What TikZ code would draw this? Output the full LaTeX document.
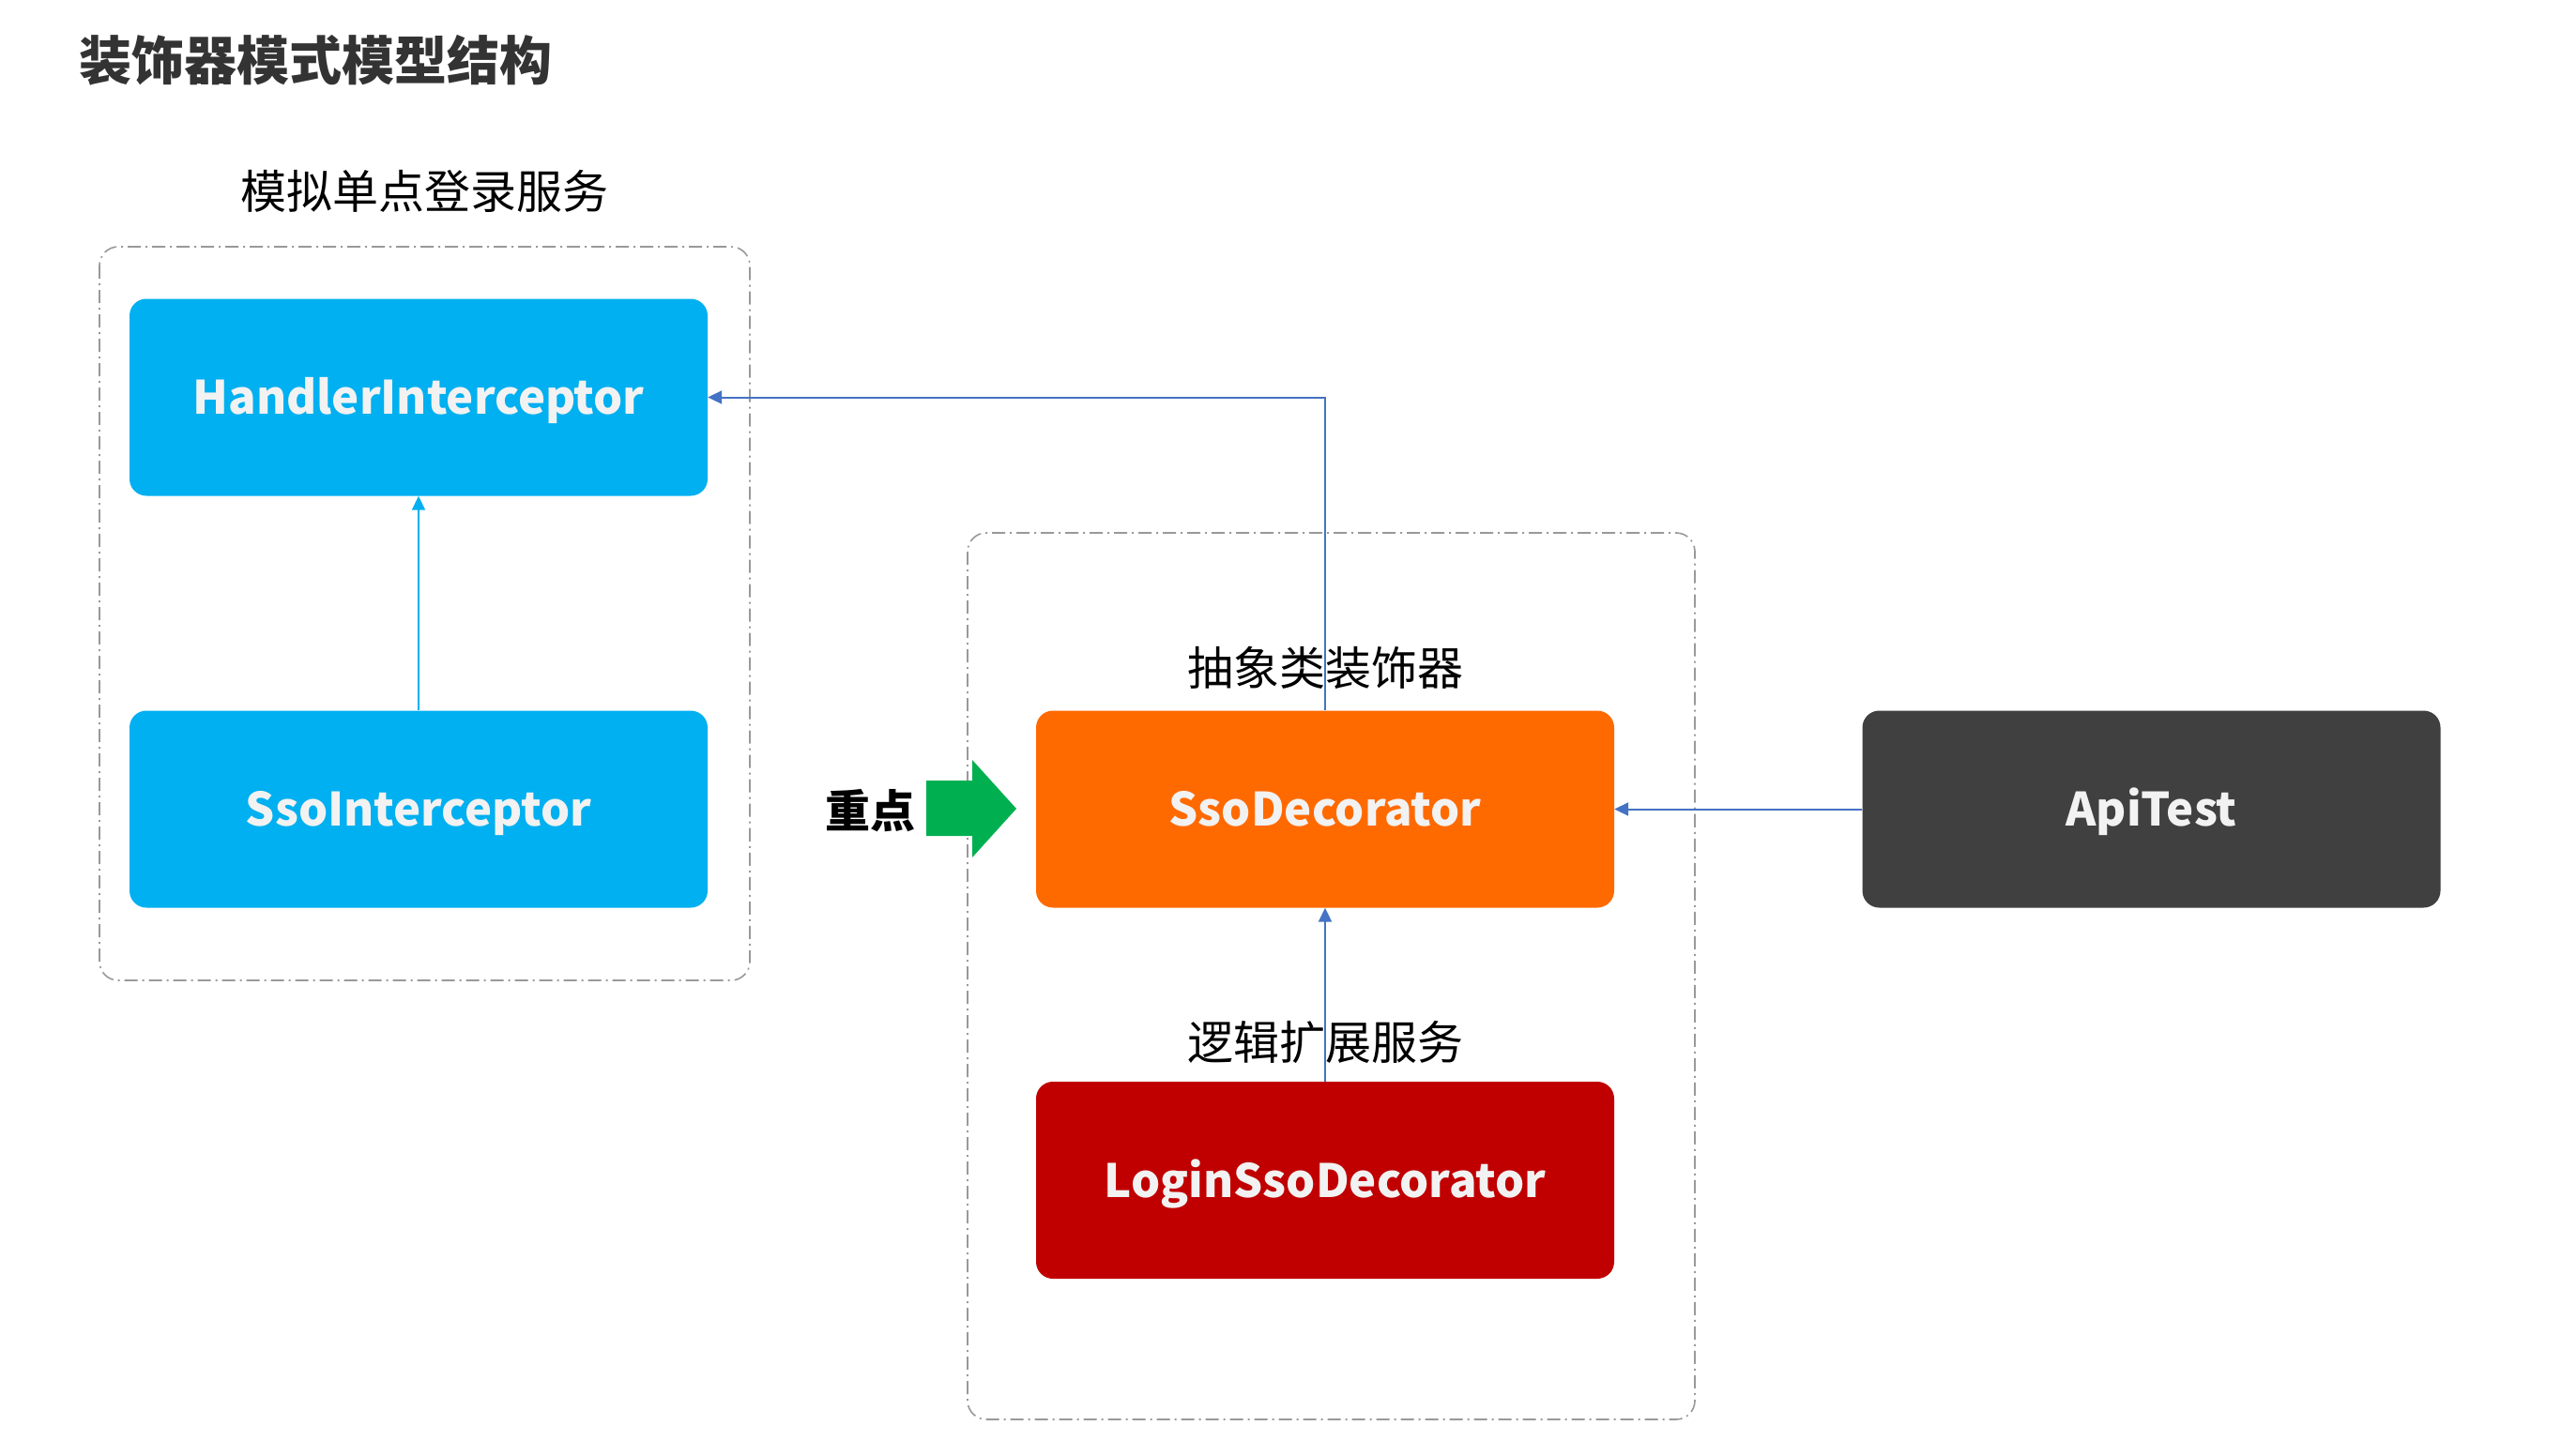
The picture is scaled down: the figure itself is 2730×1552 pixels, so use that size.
\documentclass[tikz,border=0pt]{standalone}
\usepackage{fontspec}
\setmainfont{Noto Sans CJK SC}
\usetikzlibrary{arrows.meta}
\definecolor{cyanbox}{HTML}{00B0F0}
\definecolor{orangebox}{HTML}{FF6A00}
\definecolor{redbox}{HTML}{C00000}
\definecolor{darkbox}{HTML}{404040}
\definecolor{linkblue}{HTML}{4472C4}
\definecolor{greenarrow}{HTML}{00B050}
\definecolor{titlegray}{HTML}{333333}
\definecolor{boxtext}{HTML}{F2F2F2}
\definecolor{dashgray}{HTML}{999999}
\tikzset{
  classbox/.style={rounded corners=18pt, minimum width=616pt, minimum height=210pt,
    inner sep=0pt, text height=36pt, text depth=0pt, text=boxtext,
    font=\fontsize{49}{54}\selectfont\bfseries},
  grouplabel/.style={font=\fontsize{49}{54}\selectfont, text=black, inner sep=0pt},
  groupframe/.style={draw=dashgray, line width=1.6pt, rounded corners=20pt,
    dash pattern=on 14pt off 5pt on 2pt off 5pt},
  link/.style={draw=linkblue, line width=2pt, -{Triangle[length=15pt,width=14pt]}},
  cyanlink/.style={draw=cyanbox, line width=2pt, -{Triangle[length=15pt,width=14pt]}}
}
\begin{document}
\begin{tikzpicture}[x=1pt,y=-1pt]
\useasboundingbox[fill=white] (0,0) rectangle (2730,1552);
% title
\node[anchor=west, inner sep=0pt, text=titlegray, font=\fontsize{56}{60}\selectfont\bfseries] (title) at (84,64) {装饰器模式模型结构};
% group frames
\draw[groupframe] (106,263) rectangle (799,1045);
\draw[groupframe] (1031,568) rectangle (1806,1513);
% labels
\node[grouplabel] (lab1) at (452,204) {模拟单点登录服务};
\node[grouplabel] (lab2) at (1412,712) {抽象类装饰器};
\node[grouplabel] (lab3) at (1412,1111) {逻辑扩展服务};
% boxes
\node[classbox, fill=cyanbox] (hi) at (446,423.5) {HandlerInterceptor};
\node[classbox, fill=cyanbox] (si) at (446,862.5) {SsoInterceptor};
\node[classbox, fill=orangebox] (sd) at (1412,862.5) {SsoDecorator};
\node[classbox, fill=redbox] (lsd) at (1412,1258) {LoginSsoDecorator};
\node[classbox, fill=darkbox] (api) at (2292.5,862.5) {ApiTest};
% key point
\node[inner sep=0pt, font=\fontsize{48}{52}\selectfont\bfseries, text=black] (key) at (927,864) {重点};
\fill[greenarrow] (987,832) -- (1036,832) -- (1036,810) -- (1083,862) -- (1036,914) -- (1036,891) -- (987,891) -- cycle;
% connectors
\draw[cyanlink] (si.north) -- (hi.south);
\draw[link] (sd.north) |- (hi.east);
\draw[link] (lsd.north) -- (sd.south);
\draw[link] (api.west) -- (sd.east);
\end{tikzpicture}
\end{document}
